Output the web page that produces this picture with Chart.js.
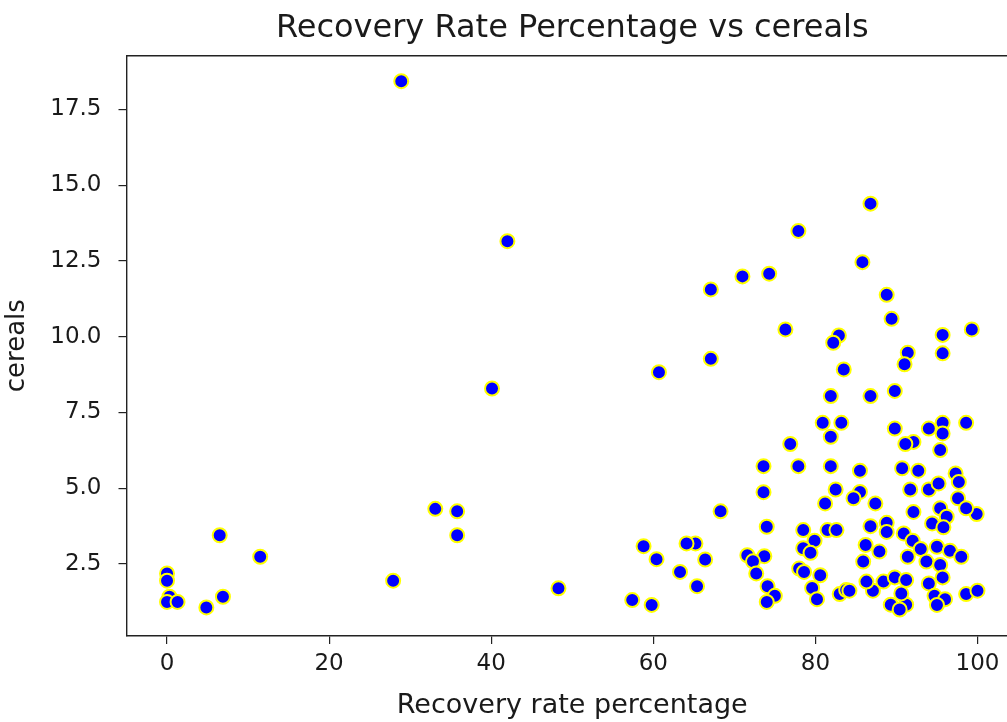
<!DOCTYPE html>
<html>
<head>
<meta charset="utf-8">
<script src="https://cdn.jsdelivr.net/npm/chart.js@4/dist/chart.umd.min.js"></script>
<style>
  html, body { margin: 0; padding: 0; background: #fff; overflow: hidden; }
  #wrap { width: 1030px; height: 722px; position: relative; }
</style>
</head>
<body>
<div id="wrap"><canvas id="scatterChart"></canvas></div>
<script>
const recoveryRate = [
    0, 0, 0.3, 0, 1.3, 4.85, 6.9, 6.5, 11.5, 27.9,
    33.1, 35.8, 35.8, 40.1, 48.3, 28.9, 42.0, 86.8, 77.9, 85.8,
    71.0, 74.3, 67.1, 88.8, 89.4, 76.3, 82.9, 82.2, 95.7, 99.3,
    91.4, 91.0, 95.7, 67.1, 60.7, 83.5, 81.9, 86.8, 89.8, 80.9,
    83.2, 81.9, 76.9, 73.6, 77.9, 81.9, 73.6, 82.5, 81.2, 89.8,
    94.0, 95.7, 98.6, 95.7, 92.1, 91.1, 95.4, 85.5, 90.7, 92.7,
    97.3, 97.7, 85.5, 91.7, 94.0, 95.2, 84.7, 87.4, 68.3, 74.0,
    78.5, 81.5, 82.6, 79.9, 78.5, 79.4, 65.2, 64.1, 66.4, 65.4,
    71.6, 73.7, 72.3, 72.7, 74.1, 75.0, 74.0, 78.0, 78.6, 80.6,
    79.6, 80.2, 83.0, 83.8, 63.3, 58.8, 60.4, 57.4, 59.8, 95.4,
    97.6, 99.9, 98.6, 92.1, 96.2, 94.4, 95.8, 86.8, 88.8, 88.8,
    90.9, 92.0, 93.0, 95.0, 96.6, 98.0, 91.4, 93.7, 95.4, 86.2,
    87.9, 85.9, 84.2, 87.1, 86.3, 88.4, 89.8, 91.2, 89.3, 91.2,
    90.4, 90.6, 94.0, 95.7, 94.7, 96.0, 95.0, 98.6, 100.0
];
const cereals = [
    2.19, 1.95, 1.42, 1.25, 1.25, 1.07, 1.42, 3.45, 2.74, 1.95,
    4.32, 4.24, 3.45, 8.29, 1.70, 18.43, 13.15, 14.39, 13.49, 12.46,
    11.99, 12.08, 11.56, 11.38, 10.59, 10.24, 10.04, 9.80, 10.06, 10.24,
    9.47, 9.09, 9.45, 9.27, 8.83, 8.92, 8.04, 8.04, 8.21, 7.16,
    7.16, 6.70, 6.46, 5.73, 5.73, 5.73, 4.87, 4.96, 4.50, 6.97,
    6.97, 7.16, 7.16, 6.81, 6.53, 6.46, 6.26, 5.58, 5.66, 5.58,
    5.49, 5.21, 4.88, 4.96, 4.96, 5.16, 4.67, 4.50, 4.24, 3.73,
    3.62, 3.62, 3.62, 3.27, 3.02, 2.87, 3.18, 3.18, 2.65, 1.77,
    2.79, 2.76, 2.59, 2.19, 1.77, 1.45, 1.25, 2.35, 2.24, 2.13,
    1.71, 1.34, 1.51, 1.64, 2.24, 3.09, 2.66, 1.31, 1.15, 4.34,
    4.67, 4.15, 4.34, 4.22, 4.06, 3.84, 3.71, 3.75, 3.86, 3.56,
    3.51, 3.27, 3.00, 3.07, 2.94, 2.74, 2.74, 2.58, 2.47, 3.13,
    2.91, 2.58, 1.62, 1.62, 1.92, 1.92, 2.06, 1.97, 1.16, 1.16,
    1.00, 1.53, 1.86, 2.06, 1.45, 1.34, 1.15, 1.51, 1.62
];
const xTicks = [0, 20, 40, 60, 80, 100];
const yTicks = [2.5, 5.0, 7.5, 10.0, 12.5, 15.0, 17.5];

const textColor = '#1a1a1a';
const fontFamily = '"DejaVu Sans", sans-serif';

const points = recoveryRate.map((x, i) => ({ x: x, y: cereals[i] }));

new Chart(document.getElementById('scatterChart'), {
    type: 'scatter',
    data: {
        datasets: [{
            data: points,
            backgroundColor: '#0000ff',
            borderColor: '#ffff00',
            borderWidth: 2,
            pointRadius: 7,
            pointHoverRadius: 7
        }]
    },
    options: {
        responsive: true,
        maintainAspectRatio: false,
        animation: false,
        layout: { padding: { left: 0, right: 12, top: 0, bottom: 0 } },
        plugins: {
            legend: { display: false },
            tooltip: { enabled: false },
            title: {
                display: true,
                fullSize: false,
                text: 'Recovery Rate Percentage vs cereals',
                color: textColor,
                font: { family: fontFamily, size: 32, weight: 'normal' },
                padding: { top: 9, bottom: 8 }
            }
        },
        scales: {
            x: {
                type: 'linear',
                min: -5,
                max: 105,
                afterBuildTicks: (scale) => { scale.ticks = xTicks.map(v => ({ value: v })); },
                afterFit: (scale) => { scale.height = 86; },
                grid: { drawOnChartArea: false, drawTicks: true, tickLength: 8, color: '#222', lineWidth: 1.2 },
                border: { display: true, color: '#222', width: 1.4 },
                ticks: {
                    color: textColor,
                    padding: 6,
                    font: { family: fontFamily, size: 23 },
                    callback: (v) => String(v)
                },
                title: {
                    display: true,
                    text: 'Recovery rate percentage',
                    color: textColor,
                    font: { family: fontFamily, size: 27 },
                    padding: { top: 2, bottom: 0 }
                }
            },
            x2: {
                type: 'linear',
                position: 'top',
                min: -5,
                max: 105,
                afterFit: (scale) => { scale.height = 0; },
                grid: { drawOnChartArea: false, drawTicks: false },
                border: { display: true, color: '#222', width: 1.4 },
                ticks: { display: false }
            },
            y: {
                type: 'linear',
                min: 0.126,
                max: 19.28,
                afterBuildTicks: (scale) => { scale.ticks = yTicks.map(v => ({ value: v })); },
                afterFit: (scale) => { scale.width = 126.5; },
                grid: { drawOnChartArea: false, drawTicks: true, tickLength: 8, color: '#222', lineWidth: 1.2 },
                border: { display: true, color: '#222', width: 1.4 },
                ticks: {
                    color: textColor,
                    padding: 17,
                    font: { family: fontFamily, size: 23 },
                    callback: (v) => Number(v).toFixed(1)
                },
                title: {
                    display: true,
                    text: 'cereals',
                    color: textColor,
                    font: { family: fontFamily, size: 26 },
                    padding: { top: 2, bottom: 0 }
                }
            }
        }
    }
});
</script>
</body>
</html>
